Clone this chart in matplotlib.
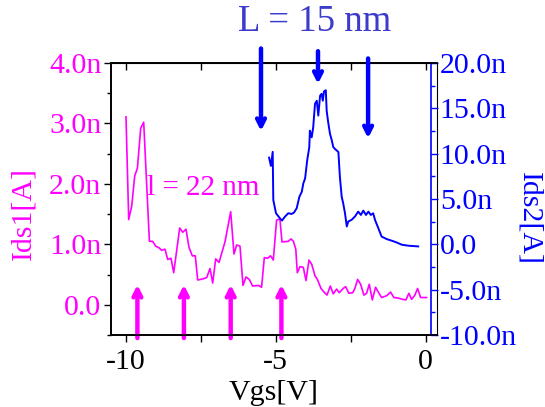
import matplotlib
matplotlib.use("Agg")
import matplotlib.pyplot as plt
from matplotlib.ticker import MultipleLocator, FixedLocator

plt.rcParams['font.family'] = ['Liberation Serif', 'DejaVu Serif']
plt.rcParams['axes.unicode_minus'] = False

# Ids1 (left axis, nA) vs Vgs
vgs1 = [-9.99, -9.90, -9.80, -9.70, -9.61, -9.50, -9.40, -9.21, -9.10, -9.00,
        -8.88, -8.80, -8.69, -8.60, -8.49, -8.40, -8.20, -8.10, -7.99, -7.89,
        -7.78, -7.68, -7.60, -7.41, -7.30, -7.19, -7.10, -7.00, -6.89, -6.69,
        -6.50, -6.39, -6.30, -6.19, -6.09, -5.99, -5.88, -5.77, -5.58, -5.47,
        -5.38, -5.27, -5.17, -5.08, -4.97, -4.86, -4.79, -4.58, -4.49, -4.41,
        -4.33, -4.28, -4.19, -4.08, -3.99, -3.89, -3.80, -3.69, -3.61, -3.49,
        -3.39, -3.29, -3.18, -3.08, -2.97, -2.88, -2.75, -2.67, -2.56, -2.43,
        -2.36, -2.27, -2.17, -2.06, -1.97, -1.88, -1.78, -1.67, -1.58, -1.47,
        -1.30, -1.17, -1.06, -0.91, -0.77, -0.66, -0.56, -0.47, -0.36, -0.27,
        -0.17, 0.03]
ids1 = [3.11, 1.41, 1.63, 2.13, 2.26, 2.92, 3.02, 1.05, 1.05, 0.97,
        0.94, 0.90, 0.92, 0.75, 0.77, 0.53, 1.27, 1.20, 1.25, 0.95,
        0.81, 0.81, 0.41, 0.43, 0.45, 0.60, 0.36, 0.76, 0.70, 1.04,
        1.54, 0.84, 0.99, 0.97, 0.32, 0.46, 0.42, 0.31, 0.32, 0.29,
        0.78, 0.77, 0.81, 0.74, 1.40, 1.42, 1.04, 1.05, 1.09, 1.05,
        0.92, 0.53, 0.63, 0.62, 0.40, 0.74, 0.67, 0.48, 0.42, 0.27,
        0.21, 0.16, 0.31, 0.18, 0.26, 0.20, 0.27, 0.30, 0.19, 0.20,
        0.27, 0.42, 0.34, 0.16, 0.19, 0.34, 0.08, 0.29, 0.21, 0.12,
        0.15, 0.21, 0.12, 0.11, 0.09, 0.08, 0.19, 0.09, 0.16, 0.27,
        0.12, 0.12]

# Ids2 (right axis, nA) vs Vgs
vgs2 = [-5.22, -5.16, -5.10, -5.08, -4.99, -4.86, -4.79, -4.69, -4.58, -4.47,
        -4.39, -4.30, -4.21, -4.13, -4.08, -4.02, -3.95, -3.88, -3.86, -3.80,
        -3.75, -3.69, -3.63, -3.58, -3.52, -3.47, -3.43, -3.39, -3.33, -3.30,
        -3.25, -3.19, -3.13, -3.08, -3.02, -2.97, -2.91, -2.86, -2.80, -2.75,
        -2.69, -2.63, -2.58, -2.47, -2.36, -2.25, -2.16, -2.08, -1.99, -1.91,
        -1.83, -1.75, -1.69, -1.58, -1.47, -1.30, -1.13, -0.97, -0.80, -0.58,
        -0.25]
ids2 = [9.56, 8.65, 10.2, 4.89, 3.43, 2.88, 2.62, 3.06, 3.43, 3.35,
        3.50, 3.98, 5.25, 5.80, 6.71, 7.26, 9.27, 10.73, 12.55, 11.8,
        12.9, 15.5, 15.84, 14.2, 16.4, 16.6, 15.84, 16.86, 17.0, 14.7,
        13.46, 12.2, 11.46, 10.73, 10.5, 10.36, 10.18, 7.44, 5.25, 4.53,
        3.43, 1.97, 2.52, 2.70, 3.06, 3.61, 3.24, 3.72, 3.24, 3.61,
        3.24, 3.43, 2.70, 1.79, 0.86, 0.58, 0.40, 0.21, -0.04, -0.15,
        -0.23]

# arrow positions (Vgs)
up_arrows_x = [-9.61, -8.06, -6.50, -4.81]
down_arrows_x = [-5.49, -3.59, -1.92]
down_arrows_top = [21.6, 21.3, 20.5]
down_arrows_tip = [12.5, 17.7, 11.7]

left_ticks = [0, 1, 2, 3, 4]
left_labels = ['0.0', '1.0n', '2.0n', '3.0n', '4.0n']
right_ticks = [-10, -5, 0, 5, 10, 15, 20]
right_labels = ['-10.0n', '-5.0n', '0.0', '5.0n', '10.0n', '15.0n', '20.0n']
x_ticks = [-10, -5, 0]
x_labels = ['-10', '-5', '0']

MAG = '#FF00FF'
BLU = '#0000FF'
FS = 21.5

W, H = 545, 407
fig = plt.figure(figsize=(W / 100, H / 100), dpi=100)
L, R, T, B = 111, 437, 63, 335
ax = fig.add_axes([L / W, 1 - B / H, (R - L) / W, (B - T) / H])
ax2 = ax.twinx()

ax.plot(vgs1, ids1, color=MAG, lw=1.2)
ax2.plot(vgs2, ids2, color=BLU, lw=1.4)

ax.set_xlim(-10.49, 0.377)
ax.set_ylim(-0.5, 4.0)
ax2.set_ylim(-10, 20)

# x axis
ax.xaxis.set_major_locator(FixedLocator(x_ticks))
ax.set_xticklabels(x_labels, fontsize=FS)
ax.xaxis.set_minor_locator(MultipleLocator(2.5))
ax.tick_params(axis='x', which='both', direction='out', length=5, width=1,
               pad=5, top=False)
ax.set_xlabel('Vgs[V]', fontsize=FS, labelpad=4)

# top ticks inward
secx = ax.secondary_xaxis('top')
secx.set_xticks([-10, -7.5, -5, -2.5, 0])
secx.set_xticklabels([])
secx.tick_params(direction='in', length=5, width=1)

# left axis
ax.set_yticks(left_ticks)
ax.set_yticklabels(left_labels, fontsize=FS, color=MAG)
ax.yaxis.set_minor_locator(MultipleLocator(0.5))
ax.tick_params(axis='y', which='major', direction='out', length=5, width=1, pad=2)
ax.tick_params(axis='y', which='minor', direction='out', length=3, width=1)

# right axis
ax2.spines['right'].set_position(('outward', -4))
ax2.spines['right'].set_color(BLU)
ax2.set_yticks(right_ticks)
ax2.set_yticklabels(right_labels, fontsize=FS, color=BLU)
ax2.yaxis.set_minor_locator(MultipleLocator(2.5))
ax2.tick_params(axis='y', which='major', direction='out', length=5, width=1,
                pad=1, color=BLU)
ax2.tick_params(axis='y', which='minor', direction='out', length=3, width=1,
                color=BLU)

for a in (ax, ax2):
    for s in ('top', 'bottom', 'left'):
        a.spines[s].set_linewidth(1.2)
ax2.spines['right'].set_linewidth(1.2)

# magenta up arrows
for xv in up_arrows_x:
    ax.annotate('', xy=(xv, 0.33), xytext=(xv, -0.55),
                arrowprops=dict(arrowstyle='->,head_length=0.55,head_width=0.28',
                                color=MAG, lw=3.2, shrinkA=0, shrinkB=0),
                annotation_clip=False)

# blue down arrows
for xv, yt, yb in zip(down_arrows_x, down_arrows_top, down_arrows_tip):
    ax2.annotate('', xy=(xv, yb), xytext=(xv, yt),
                 arrowprops=dict(arrowstyle='->,head_length=0.55,head_width=0.28',
                                 color=BLU, lw=3.2, shrinkA=0, shrinkB=0),
                 annotation_clip=False)

fig.text(315 / W, 1 - 22 / H, 'L = 15 nm', color='#3B3BCC', fontsize=26.5,
         ha='center', va='center')
fig.text(203 / W, 1 - 188 / H, 'l = 22 nm', color=MAG, fontsize=21,
         ha='center', va='center')
fig.text(23 / W, 1 - 213 / H, 'Ids1[A]', color=MAG, fontsize=FS,
         rotation=90, ha='center', va='center')
fig.text(529 / W, 1 - 218 / H, 'Ids2[A]', color=BLU, fontsize=FS,
         rotation=270, ha='center', va='center')

fig.savefig('out.png', dpi=100)
